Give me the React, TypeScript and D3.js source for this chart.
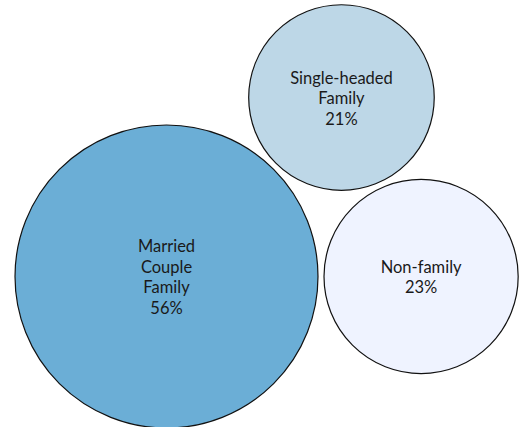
import * as d3 from 'd3';
import { useEffect, useRef } from 'react';

// household types, share of households (%)
const categories = ['Married Couple Family', 'Single-headed Family', 'Non-family'];
const values = [56, 21, 23];
const labelLines = [['Married', 'Couple', 'Family'], ['Single-headed', 'Family'], ['Non-family']];
const colors = ['#6baed6', '#bdd7e7', '#eff3ff'];

export default function App() {
  const ref = useRef<SVGSVGElement | null>(null);

  useEffect(() => {
    const pad = 3;
    const lineH = 20.5;

    const r = d3.scaleSqrt().domain([0, d3.max(values) as number]).range([0, 151.5]);

    const nodes = categories.map((c, i) => ({
      name: c,
      value: values[i],
      lines: labelLines[i],
      color: colors[i],
      r: r(values[i]) + pad,
      x: 0,
      y: 0,
    }));

    // pack biggest first, like d3.pack's sorted siblings
    const order = nodes.slice().sort((a, b) => b.value - a.value);
    d3.packSiblings(order as any);

    const big = order[0];
    const ox = 166.5 - big.x, oy = 276.5 + big.y;

    const svg = d3.select(ref.current);
    svg.selectAll('*').remove();

    const g = svg.selectAll('g.node')
      .data(nodes)
      .join('g')
      .attr('class', 'node')
      .attr('transform', (d) => `translate(${ox + d.x}, ${oy - d.y})`);

    g.append('circle')
      .attr('r', (d) => d.r - pad)
      .style('fill', (d) => d.color)
      .style('stroke', '#111')
      .style('stroke-width', 1.2);

    const text = g.append('text')
      .attr('text-anchor', 'middle')
      .style('font-family', 'Lato, sans-serif')
      .style('font-size', '16.5px')
      .style('fill', '#1a1a1a');

    text.each(function (d) {
      const all = [...d.lines, `${d.value}%`];
      const t = d3.select(this);
      const y0 = -((all.length - 1) * lineH) / 2 + 6.5;
      all.forEach((s, i) => {
        t.append('tspan').attr('x', 0).attr('y', y0 + i * lineH).text(s);
      });
    });
  }, []);

  return (
    <svg
      ref={ref}
      width={521}
      height={427}
      style={{ position: 'absolute', left: 0, top: 0, background: '#fff' }}
    />
  );
}
